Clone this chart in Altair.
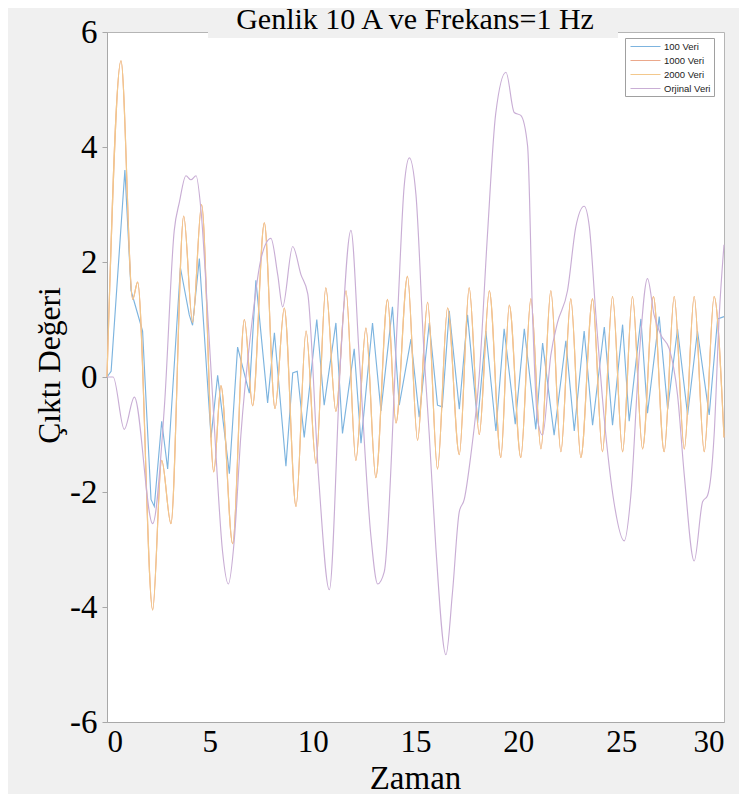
import altair as alt
import pandas as pd

# ---- data ----
T_100 = [0, 0.2, 0.87, 1.17, 1.33, 1.73, 2.14, 2.3, 2.66, 2.95, 3.57, 4.0, 4.16, 4.49, 5.06, 5.38,
         5.95, 6.35, 6.92, 7.24, 7.81, 8.14, 8.7, 9.03, 9.25, 9.59, 10.2, 10.56, 11.13, 11.45,
         12.02, 12.35, 12.91, 13.32, 13.88, 14.21, 14.78, 15.18, 15.67, 16.07, 16.3, 16.64,
         17.13, 17.53, 18.02, 18.42, 18.91, 19.31, 19.85, 20.29, 20.85, 21.18, 21.74, 22.31,
         22.72, 23.2, 23.61, 24.18, 24.58, 25.07, 25.39, 25.96, 26.28, 26.85, 27.26, 27.74,
         28.23, 28.71, 29.28, 29.69, 30.0]
Y_100 = [0, 0.1, 3.6, 1.5, 1.3, 0.8, -2.13, -2.25, -0.77, -1.6, 1.9, 1.08, 0.9, 2.06, -1.05, 0.03,
         -1.68, 0.52, -0.28, 1.68, -0.45, 0.77, -1.55, 0.07, 0.1, -1.05, 1.0, -0.49, 0.94, -0.98,
         0.49, -1.15, 0.94, -0.59, 1.22, -0.49, 0.66, -0.7, 0.94, -0.49, -0.52, 1.15,
         -0.56, 1.08, -0.8, 0.8, -0.94, 0.84, -0.82, 0.84, -0.91, 0.59, -1.01, 0.63,
         -0.94, 0.8, -0.84, 0.87, -0.84, 0.91, -0.77, 1.01, -0.63, 1.05, -0.56, 0.84,
         -0.66, 0.8, -0.66, 1.01, 1.05]

T_1000 = [0, 0.68, 1.25, 1.49, 2.22, 2.66, 3.11, 3.73, 4.16, 4.6, 5.19, 5.54, 6.11, 6.68, 7.08,
          7.65, 8.17, 8.62, 9.19, 9.68, 10.16, 10.64, 11.13, 11.62, 12.1, 12.59, 13.07, 13.64,
          14.05, 14.61, 15.1, 15.59, 16.07, 16.56, 17.13, 17.61, 18.1, 18.59, 19.15, 19.56,
          20.12, 20.61, 21.1, 21.58, 22.07, 22.55, 23.04, 23.61, 24.09, 24.58, 25.07, 25.55,
          26.04, 26.57, 27.09, 27.58, 28.07, 28.55, 29.04, 29.52, 30.0]
Y_1000 = [0, 5.5, 1.35, 1.65, -4.05, -1.45, -2.55, 2.8, 0.95, 3.0, -1.65, -0.15, -2.9, 1.0, -0.5,
          2.68, -0.55, 1.2, -2.25, 0.8, -1.5, 1.55, -0.6, 1.5, -1.45, 0.85, -1.75, 1.35,
          -0.8, 1.75, -1.1, 1.3, -1.6, 1.2, -1.35, 1.55, -1.0, 1.5, -1.4, 1.25,
          -1.4, 1.36, -1.25, 1.5, -1.3, 1.36, -1.4, 1.36, -1.3, 1.4, -1.3, 1.4,
          -1.25, 1.4, -1.3, 1.4, -1.25, 1.4, -1.3, 1.4, -1.05]

T_2000 = [0, 0.68, 1.25, 1.49, 2.22, 2.66, 3.11, 3.73, 4.16, 4.6, 5.19, 5.54, 6.11, 6.68, 7.08,
          7.65, 8.17, 8.62, 9.19, 9.68, 10.16, 10.64, 11.13, 11.62, 12.1, 12.59, 13.07, 13.64,
          14.05, 14.61, 15.1, 15.59, 16.07, 16.56, 17.13, 17.61, 18.1, 18.59, 19.15, 19.56,
          20.12, 20.61, 21.1, 21.58, 22.07, 22.55, 23.04, 23.61, 24.09, 24.58, 25.07, 25.55,
          26.04, 26.57, 27.09, 27.58, 28.07, 28.55, 29.04, 29.52, 30.0]
Y_2000 = [0, 5.5, 1.35, 1.65, -4.05, -1.45, -2.55, 2.8, 0.95, 3.0, -1.65, -0.15, -2.9, 1.0, -0.5,
          2.68, -0.55, 1.2, -2.25, 0.8, -1.5, 1.55, -0.6, 1.5, -1.45, 0.85, -1.75, 1.35,
          -0.8, 1.75, -1.1, 1.3, -1.6, 1.2, -1.35, 1.55, -1.0, 1.5, -1.4, 1.25,
          -1.4, 1.36, -1.25, 1.5, -1.3, 1.36, -1.4, 1.36, -1.3, 1.4, -1.3, 1.4,
          -1.25, 1.4, -1.3, 1.4, -1.25, 1.4, -1.3, 1.4, -1.05]

T_ORJ = [0, 0.3, 0.84, 1.33, 2.22, 2.79, 3.27, 3.52, 3.84, 4.08, 4.33, 4.57, 4.9, 5.22, 5.62,
         5.9, 6.19, 6.51, 7.0, 7.49, 7.97, 8.3, 8.54, 9.03, 9.43, 9.76, 10.3, 10.81, 11.37,
         11.86, 12.26, 12.83, 13.16, 13.48, 14.13, 14.45, 14.7, 15.02, 15.42, 15.67, 15.99,
         16.48, 16.8, 17.13, 17.37, 17.69, 18.1, 18.5, 18.9, 19.4, 19.8, 20.12, 20.45, 20.69,
         20.93, 21.18, 21.58, 21.9, 22.39, 22.8, 23.2, 23.45, 23.77, 24.18, 24.66, 25.15,
         25.47, 25.88, 26.28, 26.6, 26.93, 27.34, 27.74, 28.07, 28.55, 28.96, 29.2, 29.52,
         29.77, 30.0]
Y_ORJ = [0, 0, -0.91, -0.35, -2.55, -0.52, 2.55, 3.04, 3.5, 3.43, 3.5, 2.9, 1.08, -0.87, -3.04,
         -3.6, -2.83, -1.01, 0.8, 2.06, 2.41, 1.78, 1.22, 2.27, 1.78, 1.45, -1.8, -3.7, 0.38,
         2.55, 0.38, -2.76, -3.6, -3.39, 1.08, 3.32, 3.81, 3.18, 0.38, -1.01, -2.97,
         -4.83, -3.74, -2.34, -2.13, -1.36, 0.03, 2.48, 4.58, 5.3, 4.6, 4.55, 4.02, 1.08,
         -0.73, -1.01, 0.38, 0.94, 1.5, 2.62, 2.97, 2.62, 1.08, -0.73, -2.2, -2.85,
         -2.06, 0.38, 1.71, 1.08, 0.73, 0.49, -0.31, -1.71, -3.2, -2.17, -2.06, -1.01,
         1.08, 2.3]

SERIES = ["100 Veri", "1000 Veri", "2000 Veri", "Orjinal Veri"]
COLORS = ["#7db4df", "#eba88b", "#f3c88c", "#c9aed5"]
X_TICKS = [0, 5, 10, 15, 20, 25, 30]
Y_TICKS = [-6, -4, -2, 0, 2, 4, 6]
TITLE = "Genlik 10 A ve Frekans=1 Hz"

rows = []
for name, ts, ys in zip(SERIES, [T_100, T_1000, T_2000, T_ORJ], [Y_100, Y_1000, Y_2000, Y_ORJ]):
    for i, (t, v) in enumerate(zip(ts, ys)):
        rows.append({"Zaman": t, "Deger": v, "Seri": name, "i": i})
df = pd.DataFrame(rows)

SERIF = "Liberation Serif"
PLAIN_MINUS = "datum.value < 0 ? '-' + abs(datum.value) : '' + datum.value"

x_enc = alt.X("Zaman:Q",
              scale=alt.Scale(domain=[0, 30], nice=False),
              axis=alt.Axis(values=X_TICKS, title="Zaman", labelFlush=True, tickSize=0,
                            labelPadding=5, labelFontSize=31,
                            titleX=308, titleY=56, titleBaseline="middle",
                            titleFontSize=33))
y_enc = alt.Y("Deger:Q",
              scale=alt.Scale(domain=[-6, 6], nice=False),
              axis=alt.Axis(values=Y_TICKS, title="Çıktı Değeri", labelExpr=PLAIN_MINUS,
                            tickSize=5, labelPadding=5, labelFontSize=33,
                            titleX=-57, titleY=333, titleBaseline="middle",
                            titleAngle=270, titleAlign="center", titleFontSize=31.5))
color_enc = alt.Color("Seri:N",
                      scale=alt.Scale(domain=SERIES, range=COLORS),
                      legend=alt.Legend(title=None, orient="none", legendX=518, legendY=6,
                                        fillColor="white", strokeColor="#a0a0a0",
                                        padding=3, labelFont="Liberation Sans",
                                        labelFontSize=9.5, labelColor="#222222",
                                        symbolType="M-3,0H3", symbolSize=100,
                                        symbolStrokeWidth=1, symbolOffset=12,
                                        labelOffset=13, rowPadding=4))

one = pd.DataFrame({"k": [0]})

# grey box behind the title that overlaps the top edge of the plot (as in the reference)
title_box = alt.Chart(one).mark_rect(color="#f0f0f0").encode(
    x=alt.value(101), x2=alt.value(511), y=alt.value(-32), y2=alt.value(6))

title_text = alt.Chart(one).mark_text(
    text=TITLE, font=SERIF, fontSize=30, color="black",
    align="center", baseline="alphabetic").encode(
    x=alt.value(308), y=alt.value(-3))

blue = alt.Chart(df[df["Seri"] == "100 Veri"]).mark_line(
    strokeWidth=1.15, interpolate="linear").encode(
    x=x_enc, y=y_enc, color=color_enc, order="i:Q")

smooth = alt.Chart(df[df["Seri"] != "100 Veri"]).mark_line(
    strokeWidth=1.15, interpolate="monotone").encode(
    x=x_enc, y=y_enc, color=color_enc, order="i:Q")

chart = alt.layer(blue, smooth, title_box, title_text).properties(
    width=617, height=690,
    autosize=alt.AutoSizeParams(type="none"),
    padding={"left": 99, "top": 24, "right": 15, "bottom": 72},
).configure(background="#f0f0f0").configure_view(
    fill="white", stroke="#b5b5b5", strokeWidth=1
).configure_axis(
    grid=False, domainColor="#a8a8a8", tickColor="#a8a8a8",
    labelFont=SERIF, labelColor="black",
    titleFont=SERIF, titleColor="black", titleFontWeight="normal"
)

chart.save("out.html", embed_options={"renderer": "svg", "actions": False})
